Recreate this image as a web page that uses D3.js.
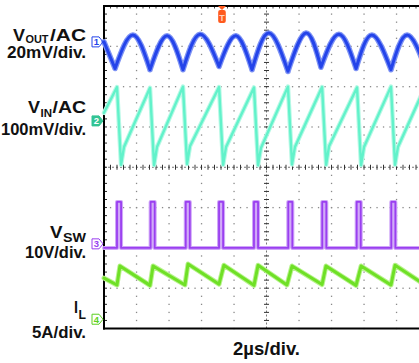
<!DOCTYPE html>
<html>
<head>
<meta charset="utf-8">
<script src="https://cdn.jsdelivr.net/npm/d3@7"></script>
<style>
  html, body { margin: 0; padding: 0; background: #fff; }
  svg { display: block; }
  text { font-family: Arial, "Liberation Sans", sans-serif; font-weight: bold; fill: #111; }
</style>
</head>
<body>
<div id="scope"></div>
<script>
// time in us (2us/div), amplitudes in screen divisions from centre
const voutStart = [0, 3.11];
const voutEnd = [20, 2.60];
const voutTroughT = [0.68, 2.83, 4.86, 7.08, 9.11, 11.32, 13.35, 15.51, 17.66, 19.80];
const voutTroughV = [2.45, 2.42, 2.42, 2.50, 2.42, 2.38, 2.48, 2.45, 2.42, 2.45];
const voutPeakT = [1.78, 3.88, 5.91, 8.12, 10.15, 12.43, 14.46, 16.49, 18.65];
const voutPeakV = [3.28, 3.26, 3.30, 3.26, 3.33, 3.33, 3.30, 3.28, 3.28];

const vinT = [0, 0.80, 1.05, 1.23, 2.83, 3.08, 3.26, 4.86, 5.11, 5.29, 7.08, 7.33, 7.51, 9.23, 9.48, 9.66, 11.32, 11.57, 11.75, 13.42, 13.67, 13.85, 15.57, 15.82, 16.00, 17.66, 17.91, 18.09, 19.75, 20];
const vinV = [1.35, 1.99, 0.06, 0.50, 1.97, 0.05, 0.50, 2.00, 0.08, 0.52, 1.99, 0.06, 0.50, 1.98, 0.05, 0.48, 2.00, 0.07, 0.50, 1.99, 0.06, 0.52, 1.98, 0.05, 0.50, 2.00, 0.06, 0.50, 1.99, 0.06];

const vswRise = [0.80, 2.87, 5.03, 7.08, 9.23, 11.34, 13.43, 15.55, 17.68];
const vswFall = [1.05, 3.12, 5.28, 7.33, 9.48, 11.59, 13.68, 15.80, 17.93];
const vswLow = -2.0;
const vswHigh = -0.86;

const ilStart = [0, -2.75];
const ilTroughT = [0.80, 2.83, 4.98, 7.08, 9.23, 11.26, 13.42, 15.51, 17.66, 19.75];
const ilTroughV = [-2.92, -2.93, -2.92, -2.90, -2.93, -2.92, -2.91, -2.93, -2.92, -2.92];
const ilPeakT = [0.98, 3.02, 5.17, 7.38, 9.48, 11.57, 13.66, 15.82, 17.91, 19.95];
const ilPeakV = [-2.45, -2.45, -2.40, -2.43, -2.43, -2.45, -2.45, -2.45, -2.43, -2.45];

const markerLevels = [3.11, 1.15, -1.90, -3.77];
const markerNames = ["1", "2", "3", "4"];
const trigTime = 7.26;

const colors = {
  vout: "#2444ea", voutHalo: "#7d92f4",
  vin: "#62f2ca", vinHalo: "#b8f9e6",
  vsw: "#9a3ff0", vswHalo: "#cfa6f8",
  il: "#6fe026", ilHalo: "#b9f38f"
};
const markerColors = ["#2444ea", "#33c494", "#9a3ff0", "#5ccf20"];

const width = 419, height = 363;
const svg = d3.select("#scope").append("svg")
  .attr("width", width)
  .attr("height", height);

const x = d3.scaleLinear().domain([0, 20]).range([104, 429]);
const y = d3.scaleLinear().domain([-4, 4]).range([328.5, 6]);

// grid dots
const grid = svg.append("g");
const gridTimes = d3.range(2, 20, 2).filter(t => t !== 10);
const gridLevels = [-3, -2, -1, 1, 2, 3];
gridTimes.forEach(t => {
  grid.selectAll(null)
    .data(d3.range(-4, 4.001, 0.2))
    .enter().append("rect")
    .attr("x", x(t) - 0.6).attr("y", d => y(d) - 0.6)
    .attr("width", 1.3).attr("height", 1.3)
    .attr("fill", "#8a8a8a");
});
gridLevels.forEach(v => {
  grid.selectAll(null)
    .data(d3.range(0, 20.01, 0.4))
    .enter().append("rect")
    .attr("x", d => x(d) - 0.6).attr("y", y(v) - 0.6)
    .attr("width", 1.3).attr("height", 1.3)
    .attr("fill", "#8a8a8a");
});

// centre cross with minor ticks
grid.append("line")
  .attr("x1", x(0)).attr("x2", x(20)).attr("y1", y(0)).attr("y2", y(0))
  .attr("stroke", "#777").attr("stroke-width", 1).attr("stroke-dasharray", "2,2");
grid.append("line")
  .attr("x1", x(10)).attr("x2", x(10)).attr("y1", y(-4)).attr("y2", y(4))
  .attr("stroke", "#777").attr("stroke-width", 1).attr("stroke-dasharray", "2,2");
grid.selectAll(null)
  .data(d3.range(0, 20.01, 0.4))
  .enter().append("line")
  .attr("x1", d => x(d)).attr("x2", d => x(d))
  .attr("y1", y(0) - 2.5).attr("y2", y(0) + 2.5)
  .attr("stroke", "#333").attr("stroke-width", 1);
grid.selectAll(null)
  .data(d3.range(-4, 4.001, 0.2))
  .enter().append("line")
  .attr("x1", x(10) - 2.5).attr("x2", x(10) + 2.5)
  .attr("y1", d => y(d)).attr("y2", d => y(d))
  .attr("stroke", "#333").attr("stroke-width", 1);

// frame: left, top, bottom (right edge is off screen)
grid.selectAll(null)
  .data(d3.range(-4, 4.001, 0.2))
  .enter().append("line")
  .attr("x1", x(0)).attr("x2", x(0) + 3)
  .attr("y1", d => y(d)).attr("y2", d => y(d))
  .attr("stroke", "#222").attr("stroke-width", 1);
grid.selectAll(null)
  .data(d3.range(0, 20.01, 0.4))
  .enter().append("line")
  .attr("x1", d => x(d)).attr("x2", d => x(d))
  .attr("y1", y(4)).attr("y2", y(4) + 2.5)
  .attr("stroke", "#444").attr("stroke-width", 1);
grid.append("line")
  .attr("x1", x(0)).attr("x2", x(0)).attr("y1", y(4) - 1).attr("y2", y(-4) + 1)
  .attr("stroke", "#000").attr("stroke-width", 2);
grid.append("line")
  .attr("x1", x(0) - 1).attr("x2", width).attr("y1", y(4)).attr("y2", y(4))
  .attr("stroke", "#000").attr("stroke-width", 2.2);
grid.append("line")
  .attr("x1", x(0) - 1).attr("x2", width).attr("y1", y(-4)).attr("y2", y(-4))
  .attr("stroke", "#000").attr("stroke-width", 2.2);

// traces
const straight = d3.line().x(d => x(d[0])).y(d => y(d[1]));
const arch = d3.line().curve(d3.curveNatural).x(d => x(d[0])).y(d => y(d[1]));

// VOUT: each ripple arch runs trough -> peak -> trough, sharp at the troughs
let voutD = straight([voutStart, [voutTroughT[0], voutTroughV[0]]]);
voutPeakT.forEach((t, i) => {
  voutD += arch([[voutTroughT[i], voutTroughV[i]], [t, voutPeakV[i]], [voutTroughT[i + 1], voutTroughV[i + 1]]]);
});
const last = voutTroughT.length - 1;
voutD += straight([[voutTroughT[last], voutTroughV[last]], voutEnd]);

const vinD = straight(vinT.map((t, i) => [t, vinV[i]]));

const vswPts = [[0, vswLow]];
vswRise.forEach((t, i) => {
  vswPts.push([t, vswLow], [t, vswHigh], [vswFall[i], vswHigh], [vswFall[i], vswLow]);
});
vswPts.push([20, vswLow]);
const vswD = straight(vswPts);

const ilPts = [ilStart];
ilTroughT.forEach((t, i) => {
  ilPts.push([t, ilTroughV[i]], [ilPeakT[i], ilPeakV[i]]);
});
const ilD = straight(ilPts);

const traces = svg.append("g");
function drawTrace(d, halo, core, haloW, coreW) {
  traces.append("path").attr("d", d)
    .attr("fill", "none").attr("stroke", halo).attr("stroke-width", haloW)
    .attr("stroke-linejoin", "round").attr("stroke-linecap", "round");
  traces.append("path").attr("d", d)
    .attr("fill", "none").attr("stroke", core).attr("stroke-width", coreW)
    .attr("stroke-linejoin", "round").attr("stroke-linecap", "round");
}
drawTrace(voutD, colors.voutHalo, colors.vout, 5.5, 3);
drawTrace(vinD, colors.vinHalo, colors.vin, 4.5, 2.4);
drawTrace(vswD, colors.vswHalo, colors.vsw, 4, 1.8);
drawTrace(ilD, colors.ilHalo, colors.il, 5, 3);

// channel ground markers
const markers = svg.append("g");
markerLevels.forEach((v, i) => {
  const my = y(v);
  const selected = i === 1;
  markers.append("path")
    .attr("d", `M92,${my - 5} H99 L103,${my} L99,${my + 5} H92 Z`)
    .attr("fill", selected ? markerColors[i] : "none")
    .attr("stroke", markerColors[i])
    .attr("stroke-width", 1);
  markers.append("text")
    .attr("x", 96.5).attr("y", my + 3.5)
    .attr("text-anchor", "middle")
    .style("font-size", "9.5px")
    .style("fill", selected ? "#fff" : markerColors[i])
    .text(markerNames[i]);
});

// trigger marker
const tx = x(trigTime);
svg.append("path")
  .attr("d", `M${tx - 4},${y(4)} L${tx + 4},${y(4)} L${tx},${y(4) + 4} Z`)
  .attr("fill", "#ff5a1e");
svg.append("rect")
  .attr("x", tx - 3.8).attr("y", y(4) + 4).attr("width", 7.6).attr("height", 13)
  .attr("rx", 2).attr("fill", "#ff5a1e");
svg.append("text")
  .attr("x", tx).attr("y", y(4) + 14.5)
  .attr("text-anchor", "middle")
  .style("font-size", "9px").style("fill", "#ffd2c0")
  .text("T");

// channel labels: [text, x, baseline, width, size]
const labelParts = [
  ["V", 13, 41, 12, 16], ["OUT", 25.5, 43, 23, 11], ["/AC", 50, 41, 36, 16],
  ["20mV/div.", 7, 57.5, 79, 16],
  ["V", 28, 113, 12, 16], ["IN", 40.5, 117, 11.5, 11.5], ["/AC", 52.5, 113, 33.5, 16],
  ["100mV/div.", 1, 135, 85, 16],
  ["V", 50, 238, 12.5, 16], ["SW", 63, 241.5, 23, 12],
  ["10V/div.", 25, 258, 61, 16],
  ["I", 74, 313, 4, 16], ["L", 78.5, 319, 7.5, 12.5],
  ["5A/div.", 32, 338, 54, 16]
];
svg.append("g").selectAll("text")
  .data(labelParts)
  .enter().append("text")
  .attr("x", d => d[1]).attr("y", d => d[2])
  .attr("textLength", d => d[3])
  .attr("lengthAdjust", "spacingAndGlyphs")
  .style("font-size", d => d[4] + "px")
  .text(d => d[0]);

svg.append("text")
  .attr("x", 266.5).attr("y", 355)
  .attr("text-anchor", "middle")
  .style("font-size", "18.5px")
  .text("2\u00b5s/div.");
</script>
</body>
</html>
